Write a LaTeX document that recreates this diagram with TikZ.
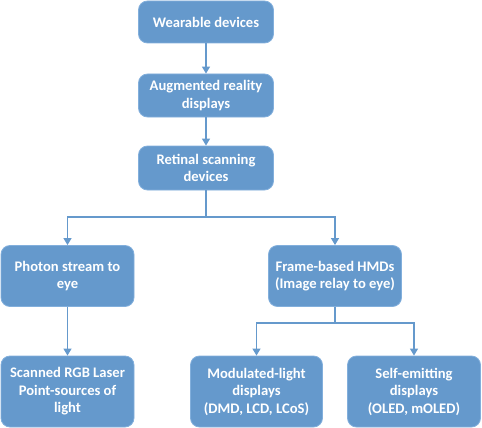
\documentclass[tikz,border=0pt]{standalone}
\usepackage{fontspec}
\setmainfont{Carlito}
\usetikzlibrary{arrows.meta}
\definecolor{boxblue}{RGB}{101,153,204}
\definecolor{boxedge}{RGB}{130,175,220}
\begin{document}
\begin{tikzpicture}[x=1pt,y=-1pt,
  box/.style={rectangle, rounded corners=9pt, fill=boxblue, draw=boxedge, line width=0.8pt,
    text=white, font=\bfseries\fontsize{14.6}{17.5}\selectfont, align=center, inner sep=2pt},
  conn/.style={draw=boxblue, line width=1.3pt, -{Triangle[length=7pt,width=8pt]}},
  plain/.style={draw=boxblue, line width=1.3pt}]
\useasboundingbox (0,0) rectangle (482,428);
\node[box, minimum width=135pt, minimum height=42pt] (wd) at (206,22) {Wearable devices};
\node[box, minimum width=135pt, minimum height=43pt] (ar) at (206,95.5) {Augmented reality\\displays};
\node[box, minimum width=135pt, minimum height=44pt] (rs) at (206,168) {Retinal scanning\\devices};
\node[box, minimum width=133pt, minimum height=61pt] (ps) at (67.5,276) {Photon stream to\\eye};
\node[box, minimum width=133pt, minimum height=61pt] (fb) at (335,276) {Frame-based HMDs\\(Image relay to eye)};
\node[box, minimum width=133pt, minimum height=71pt] (sc) at (67.5,391.5) {Scanned RGB Laser\\Point-sources of\\light};
\node[box, minimum width=132pt, minimum height=71pt] (ml) at (256.5,391.5) {Modulated-light\\displays\\(DMD, LCD, LCoS)};
\node[box, minimum width=133pt, minimum height=71pt] (se) at (414,391.5) {Self-emitting\\displays\\(OLED, mOLED)};
\coordinate (j1) at (206,217);
\coordinate (j2) at (335,323);
\draw[conn] (wd) -- (ar);
\draw[conn] (ar) -- (rs);
\draw[plain] (rs.south) -- (j1);
\draw[conn] (j1) -| (ps.north);
\draw[conn] (j1) -| (fb.north);
\draw[conn] (ps) -- (sc);
\draw[plain] (fb.south) -- (j2);
\draw[conn] (j2) -| (ml.north);
\draw[conn] (j2) -| (se.north);
\end{tikzpicture}
\end{document}
